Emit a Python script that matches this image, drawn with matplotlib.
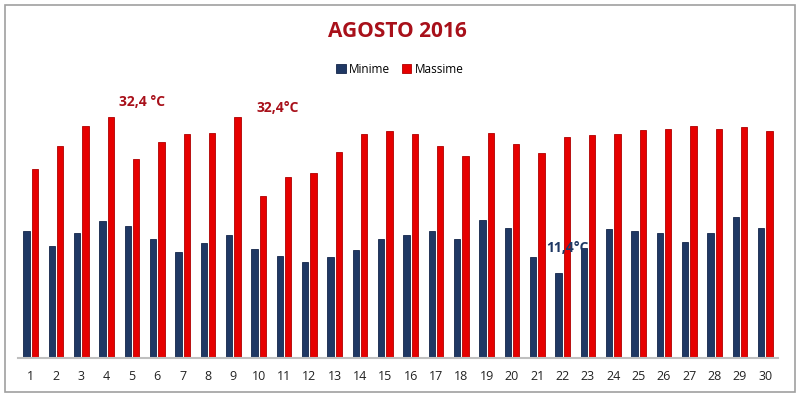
import numpy as np
import matplotlib.pyplot as plt
from matplotlib.patches import Rectangle

### Dati agosto 2016 ###
giorni = list(range(1, 31))
minime = [17.1, 15.1, 16.8, 18.4, 17.7, 16.0, 14.2, 15.4, 16.5, 14.7,
          13.7, 12.9, 13.6, 14.5, 16.0, 16.6, 17.1, 16.0, 18.5, 17.5,
          13.6, 11.4, 14.8, 17.3, 17.1, 16.8, 15.6, 16.8, 18.9, 17.5]
massime = [25.4, 28.6, 31.2, 32.4, 26.8, 29.1, 30.1, 30.3, 32.4, 21.8,
           24.4, 24.9, 27.7, 30.1, 30.5, 30.1, 28.6, 27.2, 30.3, 28.8,
           27.6, 29.8, 30.0, 30.1, 30.7, 30.8, 31.3, 30.8, 31.1, 30.6]

col_min = '#1f3864'
col_max = '#e60000'
rosso_scuro = '#a8101a'

plt.rcParams['font.family'] = ['Open Sans', 'DejaVu Sans']

fig = plt.figure(figsize=[8, 3.97], dpi=100)
ax = fig.add_axes([0.0225, 0.099, 0.95, 0.654])

x = np.array(giorni)
w = 0.25
ax.bar(x - 0.165, minime, w, color=col_min, edgecolor='#14254a', linewidth=0.6, label='Minime')
ax.bar(x + 0.165, massime, w, color=col_max, edgecolor='#b00000', linewidth=0.6, label='Massime')

ax.set_xlim(0.5, 30.5)
ax.set_ylim(0, 35)
ax.set_xticks(x)
ax.set_xticklabels([str(g) for g in giorni], fontsize=9, color='#222222')
ax.tick_params(axis='x', length=0, pad=9)
ax.set_yticks([])
for s in ['top', 'right', 'left']:
    ax.spines[s].set_visible(False)
ax.spines['bottom'].set_color('#bfbfbf')
ax.spines['bottom'].set_linewidth(1.5)

# etichette dei valori estremi
ax.text(5.4, 34.5, '32,4 °C', color=rosso_scuro, fontsize=10, fontweight='bold', ha='center', va='center')
ax.text(10.76, 33.6, '32,4°C', color=rosso_scuro, fontsize=10, fontweight='bold', ha='center', va='center')
ax.text(22.2, 14.8, '11,4°C', color=col_min, fontsize=10, fontweight='bold', ha='center', va='center')

fig.text(0.497, 0.92, 'AGOSTO 2016', color=rosso_scuro, fontsize=15, fontweight='bold', ha='center', va='center')
fig.legend(loc='center', bbox_to_anchor=(0.5, 0.825), ncol=2, frameon=False, fontsize=8.5,
           handlelength=0.8, handleheight=0.8, handletextpad=0.3, columnspacing=1.0)

# cornice grigia
fig.patches.append(Rectangle((0.006, 0.012), 0.988, 0.975, transform=fig.transFigure,
                             fill=False, edgecolor='#a0a0a0', linewidth=1.2))

plt.savefig('out.png', dpi=100)
